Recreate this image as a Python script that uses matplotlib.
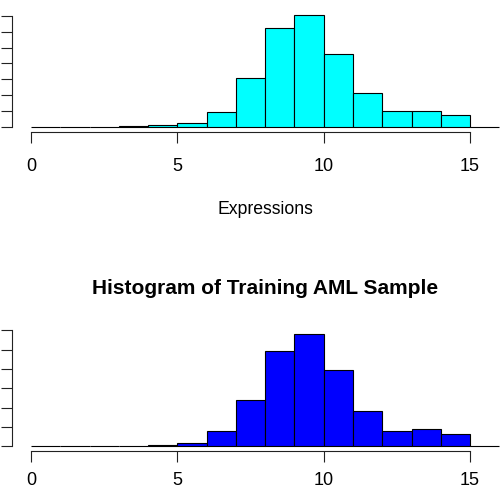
import matplotlib
matplotlib.use("Agg")
import matplotlib.pyplot as plt
import numpy as np

plt.rcParams['font.family'] = ['Liberation Sans', 'DejaVu Sans']

# Data
bin_edges = list(range(0, 17))
all_counts = [0, 0, 0, 100, 450, 1070, 4640, 15450, 31350, 35250, 23000, 10700, 4950, 4950, 3700, 0]
aml_counts = [0, 0, 0, 100, 350, 930, 3960, 11980, 24730, 29050, 19810, 9130, 3960, 4400, 3180, 0]
x_ticks = [0, 5, 10, 15]
x_ticklabels = ["0", "5", "10", "15"]
top_yticks = [0, 5000, 10000, 15000, 20000, 25000, 30000, 35000]
bot_yticks = [0, 5000, 10000, 15000, 20000, 25000, 30000]
xlabel_text = "Expressions"
title_text = "Histogram of Training AML Sample"

W, H = 504, 490
fig = plt.figure(figsize=(W / 100, H / 100), dpi=100)


def axes_px(left, top, right, bottom):
    return fig.add_axes([left / W, 1 - bottom / H, (right - left) / W, (bottom - top) / H])


def style(ax, counts, color, yticks, ylim, pad):
    edges = np.array(bin_edges, dtype=float)
    ax.bar(edges[:-1], counts, width=np.diff(edges), align='edge',
           color=color, edgecolor='black', linewidth=0.8)
    ax.set_xlim(-0.64, 16.64)
    ax.set_ylim(*ylim)
    for s in ['top', 'right']:
        ax.spines[s].set_visible(False)
    ax.spines['left'].set_bounds(yticks[0], yticks[-1])
    ax.spines['bottom'].set_bounds(x_ticks[0], x_ticks[-1])
    for s in ['left', 'bottom']:
        ax.spines[s].set_linewidth(0.8)
        ax.spines[s].set_color('#222222')
    ax.set_xticks(x_ticks)
    ax.set_xticklabels(x_ticklabels)
    ax.set_yticks(yticks)
    ax.tick_params(axis='x', length=8, width=0.8, color='#222222', pad=pad, labelsize=13)
    ax.tick_params(axis='y', length=8, width=0.8, color='#222222', labelleft=False)
    ax.patch.set_alpha(0)


ax1 = axes_px(12.3, 10.8, 518.1, 131.7)
style(ax1, all_counts, '#00FFFF', top_yticks, (-1581, 36654), 11)
ax1.text(0.5, (131.7 - 213.5) / (131.7 - 10.8), xlabel_text, transform=ax1.transAxes,
         ha='center', va='baseline', fontsize=12.7)

ax2 = axes_px(12.3, 329.5, 518.1, 450.8)
style(ax2, aml_counts, '#0000FF', bot_yticks, (-1164, 30212), 7)
ax2.text(0.5, (450.8 - 294) / (450.8 - 329.5), title_text, transform=ax2.transAxes,
         ha='center', va='baseline', fontsize=15, fontweight='bold')

fig.savefig("out.png", dpi=100)
